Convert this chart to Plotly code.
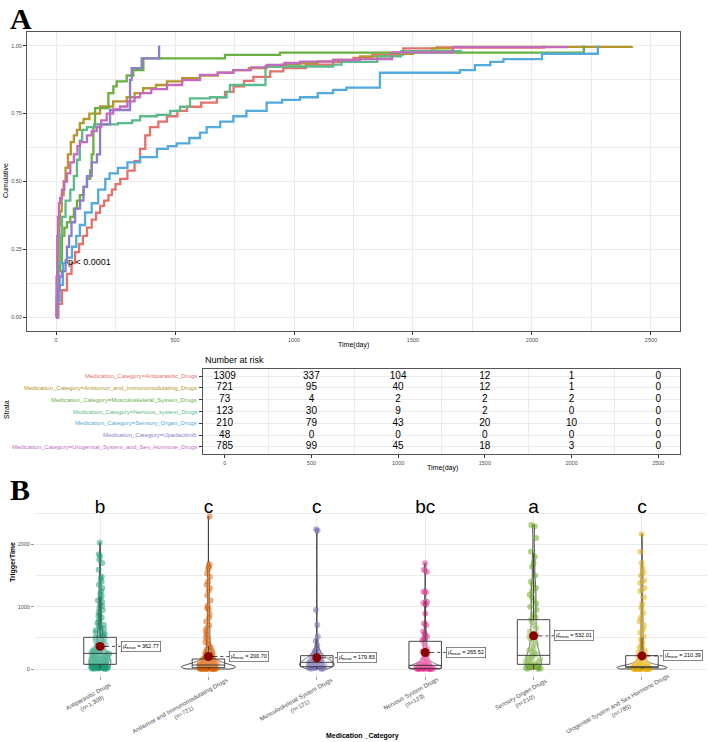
import plotly.graph_objects as go

W = 708
H = 742

def px(x):
    return x / W

def py(y):
    return 1 - y / H

# ---------------- panel A: cumulative curves ----------------
strata = ['Medication_Category=Antiparasitic_Drugs',
          'Medication_Category=Antitumor_and_Immunomodulating_Drugs',
          'Medication_Category=Musculoskeletal_System_Drugs',
          'Medication_Category=Nervous_system_Drugs',
          'Medication_Category=Sensory_Organ_Drugs',
          'Medication_Category=Upadacitinib',
          'Medication_Category=Urogenital_System_and_Sex_Hormone_Drugs']
km_colors = ['#E4716A', '#B5962B', '#6AAF3F', '#5CBA8B', '#52ABDB', '#8C7ECA', '#C46BC0']

t_antipar = [0, 10, 25, 46, 65, 80, 97, 113, 130, 150, 168, 185, 202, 220, 235, 250, 270, 300, 330, 353, 375,
             395, 430, 466, 510, 550, 610, 676, 710, 746, 790, 829, 900, 955, 1050, 1164, 1250, 1330, 1459,
             1600, 2050]
c_antipar = [0, 0.05, 0.1, 0.16, 0.2, 0.24, 0.27, 0.3, 0.33, 0.36, 0.385, 0.41, 0.43, 0.45, 0.47, 0.49, 0.51,
             0.54, 0.575, 0.62, 0.67, 0.70, 0.72, 0.74, 0.76, 0.775, 0.79, 0.81, 0.83, 0.85, 0.87, 0.885, 0.905,
             0.917, 0.93, 0.94, 0.955, 0.967, 0.99, 0.993, 1.0]
t_antitum = [0, 3, 6, 10, 14, 17, 24, 32, 40, 50, 62, 75, 88, 100, 116, 140, 185, 240, 297, 330, 366, 420,
             466, 530, 605, 680, 745, 810, 885, 950, 1025, 1100, 1164, 1277, 1400, 1500, 1580, 1668, 2420]
c_antitum = [0, 0.08, 0.2, 0.28, 0.34, 0.39, 0.45, 0.5, 0.55, 0.6, 0.645, 0.67, 0.69, 0.715, 0.73, 0.75,
             0.776, 0.795, 0.81, 0.825, 0.843, 0.855, 0.868, 0.88, 0.89, 0.9, 0.91, 0.917, 0.923, 0.93, 0.935,
             0.942, 0.947, 0.96, 0.97, 0.98, 0.99, 0.995, 0.998]
t_musc = [0, 5, 10, 17, 25, 35, 46, 60, 75, 88, 100, 116, 130, 143, 150, 157, 164, 213, 220, 241, 255, 297,
          325, 367, 710, 941, 2218]
c_musc = [0, 0.1, 0.17, 0.2, 0.3, 0.33, 0.35, 0.37, 0.4, 0.43, 0.45, 0.48, 0.51, 0.54, 0.6, 0.7, 0.77, 0.77,
          0.825, 0.85, 0.868, 0.89, 0.91, 0.953, 0.966, 0.974, 1.0]
t_nerv = [0, 5, 10, 18, 25, 40, 60, 75, 88, 100, 110, 130, 160, 260, 320, 353, 424, 480, 521, 563, 647, 717,
          731, 880, 1164, 1200, 1350, 1450, 1700]
c_nerv = [0, 0.1, 0.2, 0.3, 0.37, 0.43, 0.47, 0.52, 0.58, 0.65, 0.69, 0.70, 0.71, 0.715, 0.725, 0.74, 0.745,
          0.76, 0.775, 0.806, 0.81, 0.83, 0.855, 0.923, 0.93, 0.94, 0.96, 0.98, 0.985]
t_sens = [0, 5, 15, 29, 46, 67, 85, 100, 122, 150, 177, 207, 225, 260, 300, 353, 424, 470, 507, 560, 605,
          633, 690, 745, 800, 885, 950, 1025, 1100, 1164, 1220, 1361, 1697, 1760, 1825, 1880, 2042, 2277]
c_sens = [0, 0.06, 0.12, 0.2, 0.22, 0.26, 0.3, 0.34, 0.386, 0.42, 0.47, 0.51, 0.53, 0.55, 0.57, 0.59, 0.62,
          0.63, 0.64, 0.66, 0.68, 0.7, 0.72, 0.74, 0.76, 0.79, 0.8, 0.81, 0.825, 0.837, 0.845, 0.9, 0.91,
          0.928, 0.94, 0.95, 0.97, 1.0]
t_upa = [0, 3, 8, 15, 25, 40, 46, 55, 65, 80, 101, 115, 130, 150, 172, 185, 227, 311, 318, 360, 433]
c_upa = [0, 0.05, 0.1, 0.15, 0.17, 0.21, 0.26, 0.3, 0.35, 0.4, 0.43, 0.48, 0.52, 0.57, 0.6, 0.71, 0.763,
         0.874, 0.917, 0.953, 1.0]
t_urog = [0, 2, 5, 8, 12, 17, 25, 35, 46, 60, 75, 90, 101, 130, 150, 171, 190, 213, 240, 269, 300, 330,
          353, 400, 466, 530, 605, 680, 745, 820, 885, 960, 1025, 1164, 1277, 1412, 1668, 2151]
c_urog = [0, 0.15, 0.3, 0.37, 0.42, 0.44, 0.47, 0.5, 0.53, 0.57, 0.6, 0.63, 0.645, 0.67, 0.685, 0.7, 0.725,
          0.75, 0.765, 0.776, 0.795, 0.81, 0.825, 0.84, 0.855, 0.873, 0.892, 0.9, 0.91, 0.92, 0.929, 0.936,
          0.941, 0.947, 0.95, 0.975, 0.994, 0.994]

km_times = [t_antipar, t_antitum, t_musc, t_nerv, t_sens, t_upa, t_urog]
km_cum = [c_antipar, c_antitum, c_musc, c_nerv, c_sens, c_upa, c_urog]

# number at risk
risk_times = [0, 500, 1000, 1500, 2000, 2500]
risk_counts = [[1309, 337, 104, 12, 1, 0],
               [721, 95, 40, 12, 1, 0],
               [73, 4, 2, 2, 2, 0],
               [123, 30, 9, 2, 0, 0],
               [210, 79, 43, 20, 10, 0],
               [48, 0, 0, 0, 0, 0],
               [785, 99, 45, 18, 3, 0]]

# ---------------- panel B: trigger time by category ----------------
cat_names = ['Antiparasitic Drugs', 'Antitumor and Immunomodulating Drugs', 'Musculoskeletal System Drugs',
             'Nervous System Drugs', 'Sensory Organ Drugs', 'Urogenital System and Sex Hormone Drugs']
cat_n = ['(n=1,309)', '(n=721)', '(n=121)', '(n=123)', '(n=210)', '(n=785)']
cat_colors = ['#1B9E77', '#D95F02', '#7570B3', '#E7298A', '#66A61E', '#E6AB02']
letters = ['b', 'c', 'c', 'bc', 'a', 'c']
means = [362.77, 200.70, 179.83, 265.52, 532.01, 210.39]
q1 = [75, 21, 37, 10, 75, 21]
med = [251, 64, 107, 59, 219, 37]
q3 = [508, 160, 214, 444, 791, 214]
upper = [1157, 368, 480, 1095, 1865, 503]
violin_w = [0.2, 0.5, 0.32, 0.3, 0.14, 0.46]
violin_bw = [90, 35, 45, 45, 120, 35]

tt_antipar = [2, 5, 8, 10, 14, 18, 20, 25, 28, 30, 35, 40, 42, 48, 55, 60, 65, 70, 75, 80, 85, 90, 95, 100,
              108, 115, 120, 128, 135, 140, 150, 158, 165, 170, 180, 190, 198, 205, 215, 225, 235, 245, 252,
              260, 270, 280, 290, 300, 312, 325, 335, 348, 360, 372, 385, 398, 410, 425, 440, 455, 470, 485,
              500, 515, 530, 548, 565, 580, 600, 620, 640, 660, 685, 710, 735, 760, 790, 820, 850, 880, 910,
              945, 980, 1010, 1040, 1075, 1100, 1130, 1170, 1210, 1250, 1300, 1350, 1400, 1450, 1480, 1590,
              1700, 1750, 1810, 1840, 2026, 3, 6, 12, 16, 22, 26, 33, 38, 45, 50, 58, 63, 68, 73, 78, 88, 93,
              98, 104, 112, 118, 125, 132, 145, 155, 162, 175, 185, 195, 210, 220, 230, 240, 255, 265, 275,
              285, 295]
tt_antitum = [0, 1, 2, 3, 4, 5, 6, 7, 8, 10, 12, 14, 15, 17, 19, 21, 23, 25, 27, 30, 32, 35, 38, 40, 43, 46,
              50, 53, 57, 60, 64, 68, 72, 76, 80, 85, 90, 95, 100, 106, 112, 118, 125, 132, 140, 148, 155, 160,
              170, 180, 190, 200, 215, 230, 250, 270, 290, 310, 340, 370, 400, 430, 470, 500, 540, 580, 620,
              660, 700, 760, 820, 880, 950, 980, 1020, 1100, 1180, 1250, 1300, 1350, 1400, 1480, 1530, 1600,
              1640, 1680, 2444, 0, 2, 5, 9, 13, 18, 22, 28, 34, 41, 48, 55, 62, 70, 78, 88, 98, 110]
tt_musc = [0, 5, 10, 15, 20, 25, 30, 35, 38, 42, 48, 55, 60, 65, 70, 78, 85, 90, 95, 100, 105, 110, 115, 120,
           130, 140, 150, 160, 170, 180, 190, 200, 210, 220, 240, 260, 280, 300, 330, 380, 450, 520, 705, 945,
           2220, 2240, 12, 28, 45, 58, 75, 88, 98, 108, 125, 145, 165, 195]
tt_nerv = [0, 1, 2, 3, 5, 7, 9, 11, 14, 17, 20, 24, 28, 32, 37, 42, 48, 54, 60, 66, 72, 80, 90, 100, 115, 130,
           150, 170, 200, 240, 280, 320, 370, 420, 460, 490, 520, 560, 600, 705, 730, 890, 1030, 1060, 1080,
           1230, 1240, 1560, 1590, 1695, 0, 4, 6, 10, 15, 22, 30, 40, 50]
tt_sens = [0, 5, 10, 18, 25, 35, 45, 55, 65, 75, 85, 95, 110, 125, 140, 155, 170, 185, 200, 219, 240, 260,
           280, 300, 330, 360, 400, 440, 480, 520, 560, 600, 650, 700, 750, 790, 830, 880, 950, 1000, 1050,
           1100, 1150, 1190, 1250, 1300, 1350, 1400, 1500, 1640, 1700, 1800, 1880, 2100, 2290, 2310]
tt_urog = [0, 1, 2, 3, 4, 5, 6, 7, 8, 9, 10, 12, 14, 16, 18, 20, 22, 25, 28, 31, 34, 37, 40, 44, 48, 52, 57,
           62, 68, 75, 82, 90, 100, 110, 120, 135, 150, 165, 180, 200, 214, 240, 270, 300, 340, 380, 420, 470,
           520, 580, 640, 700, 760, 820, 900, 980, 1050, 1150, 1250, 1300, 1380, 1420, 1500, 1550, 1620, 1700,
           1880, 2160, 0, 1, 3, 5, 8, 11, 15, 19, 24, 30, 36, 45, 55]
trigger = [tt_antipar, tt_antitum, tt_musc, tt_nerv, tt_sens, tt_urog]

FONT = 'Liberation Sans, Arial, sans-serif'
SERIF = 'Liberation Serif, Times New Roman, serif'
GRID = '#EBEBEB'
TICKC = '#4D4D4D'

fig = go.Figure()

# panel A curves
for i in range(len(strata)):
    fig.add_trace(go.Scatter(x=km_times[i], y=km_cum[i], mode='lines', line_shape='hv',
                             line=dict(color=km_colors[i], width=2.3), xaxis='x', yaxis='y',
                             hoverinfo='skip'))
fig.add_trace(go.Scatter(x=[50], y=[0.2], mode='text', text=['p < 0.0001'], textposition='middle right',
                         textfont=dict(size=9, color='black', family=FONT), xaxis='x', yaxis='y'))

# risk table numbers
for i in range(len(strata)):
    fig.add_trace(go.Scatter(x=risk_times, y=[i + 1] * len(risk_times), mode='text',
                             text=[str(v) for v in risk_counts[i]],
                             textfont=dict(size=10, color='black', family=FONT),
                             xaxis='x2', yaxis='y2', hoverinfo='skip'))

# panel B: jittered points, boxes, violins, means
for i in range(len(cat_names)):
    pos = i + 1
    vals = trigger[i]
    fig.add_trace(go.Box(y=vals, x=[pos] * len(vals), boxpoints='all', jitter=1, pointpos=0, width=0.17,
                         fillcolor='rgba(0,0,0,0)', line=dict(color='rgba(0,0,0,0)', width=0),
                         marker=dict(color=cat_colors[i], opacity=0.5, size=6),
                         xaxis='x3', yaxis='y3', hoverinfo='skip'))
for i in range(len(cat_names)):
    pos = i + 1
    fig.add_trace(go.Box(x=[pos], q1=[q1[i]], median=[med[i]], q3=[q3[i]], lowerfence=[0],
                         upperfence=[upper[i]], width=0.3, whiskerwidth=0,
                         fillcolor='rgba(255,255,255,0.25)', line=dict(color='#333333', width=0.9),
                         xaxis='x3', yaxis='y3', hoverinfo='skip'))
for i in range(len(cat_names)):
    pos = i + 1
    vals = trigger[i]
    fig.add_trace(go.Violin(y=vals, x=[pos] * len(vals), width=violin_w[i], spanmode='hard',
                            bandwidth=violin_bw[i], points=False, scalemode='width',
                            fillcolor='rgba(255,255,255,0.2)', line=dict(color='#222222', width=0.8),
                            xaxis='x3', yaxis='y3', hoverinfo='skip'))
for i in range(len(cat_names)):
    pos = i + 1
    fig.add_trace(go.Scatter(x=[pos, pos + 0.19], y=[means[i], means[i]], mode='lines',
                             line=dict(color='black', width=0.7, dash='dashdot'),
                             xaxis='x3', yaxis='y3', hoverinfo='skip'))
fig.add_trace(go.Scatter(x=list(range(1, 7)), y=means, mode='markers',
                         marker=dict(color='#8B0000', size=9), xaxis='x3', yaxis='y3', hoverinfo='skip'))
fig.add_trace(go.Scatter(x=list(range(1, 7)), y=[2570] * 6, mode='text', text=letters,
                         textfont=dict(size=19, color='black', family=FONT), xaxis='x3', yaxis='y3'))

ann = []
for i in range(len(cat_names)):
    ann.append(dict(x=i + 1.19, y=means[i], xref='x3', yref='y3', xanchor='left', yanchor='middle',
                    text='\u03bc\u0302<sub>mean</sub> = %.2f' % means[i], showarrow=False,
                    font=dict(size=5.5, color='black', family=FONT), bgcolor='white',
                    bordercolor='#555555', borderwidth=0.7, borderpad=1.2))
for i in range(len(strata)):
    ann.append(dict(x=px(199), y=i + 1, xref='paper', yref='y2', xanchor='right', yanchor='middle',
                    text=strata[i], showarrow=False, font=dict(size=6, color=km_colors[i], family=FONT)))

# rotated category labels under panel B (centre offsets from each tick, in px)
lab_dx = [-10, -26, -19, -12, -11, -22]
lab_y = [700, 709, 703, 697, 698, 707]
for i in range(len(cat_names)):
    ann.append(dict(x=i + 1, y=py(lab_y[i]), xref='x3', yref='paper', xshift=lab_dx[i],
                    xanchor='center', yanchor='middle', align='center', textangle=-29,
                    text=cat_names[i] + '<br>' + cat_n[i], showarrow=False,
                    font=dict(size=6, color=TICKC, family=FONT)))


def label(x, y, text, size, angle=0, family=FONT, xanchor='center'):
    return dict(x=px(x), y=py(y), xref='paper', yref='paper', xanchor=xanchor, yanchor='middle',
                text=text, textangle=angle, showarrow=False,
                font=dict(size=size, color='black', family=family))


ann += [
    label(21, 19, '<b>A</b>', 30, family=SERIF),
    label(20, 489, '<b>B</b>', 30, family=SERIF),
    label(6, 181, 'Cumulative', 7, angle=-90),
    label(353, 345, 'Time(day)', 7),
    label(203, 360, 'Number at risk', 9, xanchor='left'),
    label(6, 410, 'Strata', 7, angle=-90),
    label(442, 468, 'Time(day)', 7),
    label(13, 562, '<b>TriggerTime</b>', 7, angle=-90),
    label(362, 736, '<b>Medication _Category</b>', 7),
]

tickfont = dict(size=5.5, color=TICKC, family=FONT)
fig.update_layout(
    width=W, height=H, margin=dict(l=0, r=0, t=0, b=0, autoexpand=False),
    paper_bgcolor='white', plot_bgcolor='white', showlegend=False,
    boxmode='overlay', violinmode='overlay',
    annotations=ann,
    xaxis=dict(domain=[px(27), px(680)], range=[-122, 2622], tickvals=[0, 500, 1000, 1500, 2000, 2500],
               showgrid=True, gridcolor=GRID, gridwidth=1, zeroline=False, automargin=False,
               minor=dict(dtick=250, tick0=0, showgrid=True, gridcolor=GRID, gridwidth=0.6),
               showline=True, mirror=True, linecolor='#555555', linewidth=1,
               ticks='outside', ticklen=3, tickcolor='#333333', tickfont=tickfont, anchor='y'),
    yaxis=dict(domain=[py(331), py(32)], range=[-0.05, 1.05], tickvals=[0, 0.25, 0.5, 0.75, 1],
               ticktext=['0.00', '0.25', '0.50', '0.75', '1.00'],
               showgrid=True, gridcolor=GRID, gridwidth=1, zeroline=False, automargin=False,
               minor=dict(dtick=0.125, tick0=0, showgrid=True, gridcolor=GRID, gridwidth=0.6),
               showline=True, mirror=True, linecolor='#555555', linewidth=1,
               ticks='outside', ticklen=3, tickcolor='#333333', tickfont=tickfont, anchor='x'),
    xaxis2=dict(domain=[px(203), px(680)], range=[-125, 2625], tickvals=[0, 500, 1000, 1500, 2000, 2500],
                showgrid=True, gridcolor=GRID, gridwidth=1, zeroline=False, automargin=False,
                minor=dict(dtick=250, tick0=0, showgrid=True, gridcolor=GRID, gridwidth=0.6),
                showline=True, mirror=True, linecolor='#555555', linewidth=1,
                ticks='outside', ticklen=3, tickcolor='#333333', tickfont=tickfont, anchor='y2'),
    yaxis2=dict(domain=[py(454), py(369)], range=[7.6, 0.4], tickvals=list(range(1, 8)),
                showticklabels=False, showgrid=True, gridcolor=GRID, gridwidth=1, zeroline=False,
                automargin=False, showline=True, mirror=True, linecolor='#555555', linewidth=1,
                ticks='outside', ticklen=3, tickcolor='#333333', anchor='x2'),
    xaxis3=dict(domain=[px(35), px(707)], range=[0.4, 6.6], tickvals=list(range(1, 7)),
                showticklabels=False, automargin=False,
                showgrid=True, gridcolor=GRID, gridwidth=0.8, zeroline=False, showline=False,
                ticks='outside', ticklen=3, tickcolor='#999999', anchor='y3'),
    yaxis3=dict(domain=[py(676), py(495)], range=[-112, 2790], tickvals=[0, 1000, 2000],
                showgrid=True, gridcolor=GRID, gridwidth=0.8, zeroline=False, showline=False,
                automargin=False,
                minor=dict(dtick=500, tick0=0, showgrid=True, gridcolor=GRID, gridwidth=0.6),
                ticks='outside', ticklen=3, tickcolor='#999999', tickfont=tickfont, anchor='x3'),
)

fig.write_html('out.html', config={'displayModeBar': False},
               post_script="document.body.style.margin='0';")
